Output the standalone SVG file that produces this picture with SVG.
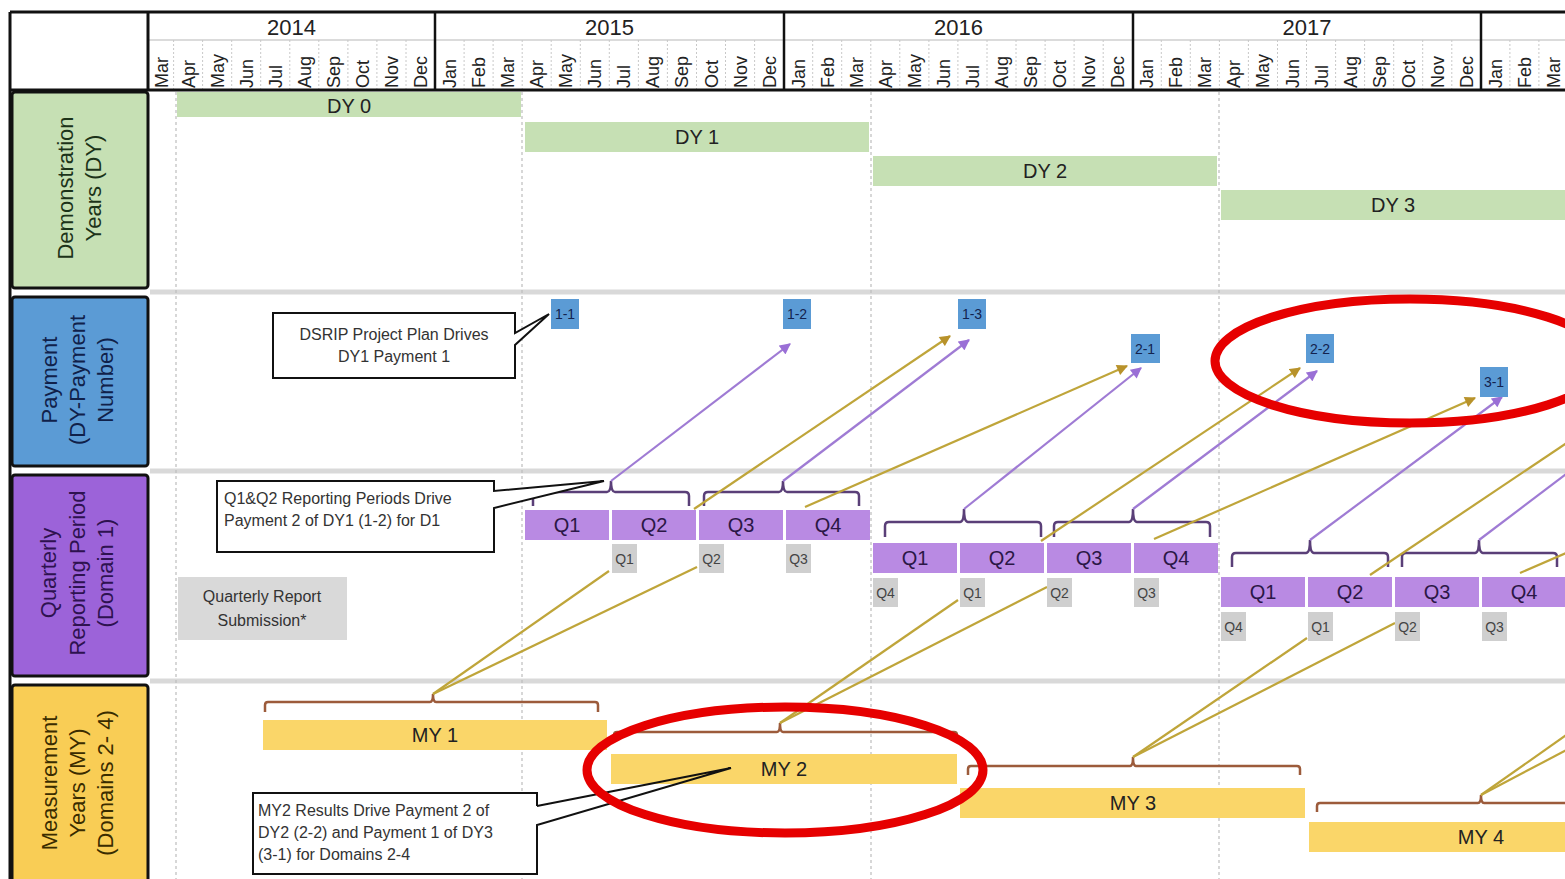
<svg xmlns="http://www.w3.org/2000/svg" width="1565" height="879" viewBox="0 0 1565 879">
<style>
text{font-family:"Liberation Sans",Arial,sans-serif;}
.yr{font-size:22px;fill:#222;text-anchor:middle}
.mon{font-size:18px;fill:#222}
.lbl{font-size:22px;text-anchor:middle}
.bar{font-size:20px;fill:#222;text-anchor:middle}
.qb{fill:#b98ae3}
.qt{font-size:20px;fill:#2b1746;text-anchor:middle}
.gb{fill:#cfcfcf}
.gt{font-size:14px;fill:#444;text-anchor:middle}
.pb{fill:#5b9bd5}
.pt{font-size:14px;fill:#13234f;text-anchor:middle}
.dy{fill:#c6e0b4}
.my{fill:#fad669}
.call{fill:#fff;stroke:#111;stroke-width:2}
.cline{fill:none;stroke:#111;stroke-width:2}
.ct{font-size:16px;fill:#333}
.sep{stroke:#c8c8c8;stroke-width:1;stroke-dasharray:2 2}
.dash{stroke:#bdbdbd;stroke-width:1.2;stroke-dasharray:3 3}
.band{stroke:#d9d9d9;stroke-width:5}
.brk{fill:none;stroke:#5a3f78;stroke-width:2.5}
.mbrk{fill:none;stroke:#9c5b3b;stroke-width:2.5}
.pl{stroke:#9f7bd4;stroke-width:2.2;fill:none}
.gl{stroke:#bfa53a;stroke-width:2.2;fill:none}
.ell{fill:none;stroke:#e60000;stroke-width:9}
</style>
<defs>
<marker id="ap" viewBox="0 0 10 10" refX="9" refY="5" markerWidth="12" markerHeight="11" markerUnits="userSpaceOnUse" orient="auto"><path d="M0,0 L10,5 L0,10 Z" fill="#9a6fd6"/></marker>
<marker id="ag" viewBox="0 0 10 10" refX="9" refY="5" markerWidth="12" markerHeight="11" markerUnits="userSpaceOnUse" orient="auto"><path d="M0,0 L10,5 L0,10 Z" fill="#b8922a"/></marker>
</defs>
<rect x="0" y="0" width="1565" height="879" fill="#fff"/>

<g id="header">
<line x1="148" y1="40" x2="1565" y2="40" stroke="#cfcfcf" stroke-width="1.5"/>
<g>
<line class="sep" x1="173.6" y1="40" x2="173.6" y2="90"/><line class="sep" x1="202.6" y1="40" x2="202.6" y2="90"/><line class="sep" x1="231.7" y1="40" x2="231.7" y2="90"/><line class="sep" x1="260.7" y1="40" x2="260.7" y2="90"/><line class="sep" x1="289.8" y1="40" x2="289.8" y2="90"/><line class="sep" x1="318.8" y1="40" x2="318.8" y2="90"/><line class="sep" x1="347.9" y1="40" x2="347.9" y2="90"/><line class="sep" x1="376.9" y1="40" x2="376.9" y2="90"/><line class="sep" x1="406" y1="40" x2="406" y2="90"/>
<line class="sep" x1="464.1" y1="40" x2="464.1" y2="90"/><line class="sep" x1="493.1" y1="40" x2="493.1" y2="90"/><line class="sep" x1="522.2" y1="40" x2="522.2" y2="90"/><line class="sep" x1="551.2" y1="40" x2="551.2" y2="90"/><line class="sep" x1="580.3" y1="40" x2="580.3" y2="90"/><line class="sep" x1="609.3" y1="40" x2="609.3" y2="90"/><line class="sep" x1="638.4" y1="40" x2="638.4" y2="90"/><line class="sep" x1="667.4" y1="40" x2="667.4" y2="90"/><line class="sep" x1="696.5" y1="40" x2="696.5" y2="90"/><line class="sep" x1="725.5" y1="40" x2="725.5" y2="90"/><line class="sep" x1="754.6" y1="40" x2="754.6" y2="90"/>
<line class="sep" x1="812.7" y1="40" x2="812.7" y2="90"/><line class="sep" x1="841.7" y1="40" x2="841.7" y2="90"/><line class="sep" x1="870.8" y1="40" x2="870.8" y2="90"/><line class="sep" x1="899.8" y1="40" x2="899.8" y2="90"/><line class="sep" x1="928.9" y1="40" x2="928.9" y2="90"/><line class="sep" x1="957.9" y1="40" x2="957.9" y2="90"/><line class="sep" x1="987" y1="40" x2="987" y2="90"/><line class="sep" x1="1016" y1="40" x2="1016" y2="90"/><line class="sep" x1="1045.1" y1="40" x2="1045.1" y2="90"/><line class="sep" x1="1074.1" y1="40" x2="1074.1" y2="90"/><line class="sep" x1="1103.2" y1="40" x2="1103.2" y2="90"/>
<line class="sep" x1="1161.3" y1="40" x2="1161.3" y2="90"/><line class="sep" x1="1190.3" y1="40" x2="1190.3" y2="90"/><line class="sep" x1="1219.4" y1="40" x2="1219.4" y2="90"/><line class="sep" x1="1248.4" y1="40" x2="1248.4" y2="90"/><line class="sep" x1="1277.5" y1="40" x2="1277.5" y2="90"/><line class="sep" x1="1306.5" y1="40" x2="1306.5" y2="90"/><line class="sep" x1="1335.6" y1="40" x2="1335.6" y2="90"/><line class="sep" x1="1364.6" y1="40" x2="1364.6" y2="90"/><line class="sep" x1="1393.7" y1="40" x2="1393.7" y2="90"/><line class="sep" x1="1422.7" y1="40" x2="1422.7" y2="90"/><line class="sep" x1="1451.8" y1="40" x2="1451.8" y2="90"/>
<line class="sep" x1="1509.9" y1="40" x2="1509.9" y2="90"/><line class="sep" x1="1538.9" y1="40" x2="1538.9" y2="90"/>
</g>
<g stroke="#111" stroke-width="3">
<line x1="10" y1="12" x2="1565" y2="12"/>
<line x1="10" y1="90" x2="1565" y2="90"/>
<line x1="10" y1="12" x2="10" y2="879"/>
<line x1="148" y1="12" x2="148" y2="90"/>
<line x1="435" y1="12" x2="435" y2="90" stroke-width="2.5"/>
<line x1="784" y1="12" x2="784" y2="90" stroke-width="2.5"/>
<line x1="1133" y1="12" x2="1133" y2="90" stroke-width="2.5"/>
<line x1="1481" y1="12" x2="1481" y2="90" stroke-width="2.5"/>
</g>
<text class="yr" x="291.5" y="35">2014</text>
<text class="yr" x="609.5" y="35">2015</text>
<text class="yr" x="958.5" y="35">2016</text>
<text class="yr" x="1307" y="35">2017</text>
<g class="mon">
<text transform="translate(168,88) rotate(-90)">Mar</text>
<text transform="translate(194.6,88) rotate(-90)">Apr</text>
<text transform="translate(223.6,88) rotate(-90)">May</text>
<text transform="translate(252.7,88) rotate(-90)">Jun</text>
<text transform="translate(281.7,88) rotate(-90)">Jul</text>
<text transform="translate(310.8,88) rotate(-90)">Aug</text>
<text transform="translate(339.8,88) rotate(-90)">Sep</text>
<text transform="translate(368.9,88) rotate(-90)">Oct</text>
<text transform="translate(397.9,88) rotate(-90)">Nov</text>
<text transform="translate(427,88) rotate(-90)">Dec</text>
<text transform="translate(456,88) rotate(-90)">Jan</text>
<text transform="translate(485.1,88) rotate(-90)">Feb</text>
<text transform="translate(514.1,88) rotate(-90)">Mar</text>
<text transform="translate(543.2,88) rotate(-90)">Apr</text>
<text transform="translate(572.2,88) rotate(-90)">May</text>
<text transform="translate(601.3,88) rotate(-90)">Jun</text>
<text transform="translate(630.3,88) rotate(-90)">Jul</text>
<text transform="translate(659.4,88) rotate(-90)">Aug</text>
<text transform="translate(688.4,88) rotate(-90)">Sep</text>
<text transform="translate(717.5,88) rotate(-90)">Oct</text>
<text transform="translate(746.5,88) rotate(-90)">Nov</text>
<text transform="translate(775.6,88) rotate(-90)">Dec</text>
<text transform="translate(804.6,88) rotate(-90)">Jan</text>
<text transform="translate(833.7,88) rotate(-90)">Feb</text>
<text transform="translate(862.7,88) rotate(-90)">Mar</text>
<text transform="translate(891.8,88) rotate(-90)">Apr</text>
<text transform="translate(920.8,88) rotate(-90)">May</text>
<text transform="translate(949.9,88) rotate(-90)">Jun</text>
<text transform="translate(978.9,88) rotate(-90)">Jul</text>
<text transform="translate(1008,88) rotate(-90)">Aug</text>
<text transform="translate(1037,88) rotate(-90)">Sep</text>
<text transform="translate(1066.1,88) rotate(-90)">Oct</text>
<text transform="translate(1095.1,88) rotate(-90)">Nov</text>
<text transform="translate(1124.2,88) rotate(-90)">Dec</text>
<text transform="translate(1153.2,88) rotate(-90)">Jan</text>
<text transform="translate(1182.3,88) rotate(-90)">Feb</text>
<text transform="translate(1211.3,88) rotate(-90)">Mar</text>
<text transform="translate(1240.4,88) rotate(-90)">Apr</text>
<text transform="translate(1269.4,88) rotate(-90)">May</text>
<text transform="translate(1298.5,88) rotate(-90)">Jun</text>
<text transform="translate(1327.5,88) rotate(-90)">Jul</text>
<text transform="translate(1356.6,88) rotate(-90)">Aug</text>
<text transform="translate(1385.6,88) rotate(-90)">Sep</text>
<text transform="translate(1414.7,88) rotate(-90)">Oct</text>
<text transform="translate(1443.7,88) rotate(-90)">Nov</text>
<text transform="translate(1472.8,88) rotate(-90)">Dec</text>
<text transform="translate(1501.8,88) rotate(-90)">Jan</text>
<text transform="translate(1530.9,88) rotate(-90)">Feb</text>
<text transform="translate(1559.9,88) rotate(-90)">Mar</text>
</g>
</g>

<g id="grid">
<line class="band" x1="150" y1="292" x2="1565" y2="292"/>
<line class="band" x1="150" y1="471" x2="1565" y2="471"/>
<line class="band" x1="150" y1="681" x2="1565" y2="681"/>
<line class="dash" x1="176" y1="92" x2="176" y2="879"/>
<line class="dash" x1="522" y1="92" x2="522" y2="879"/>
<line class="dash" x1="871" y1="92" x2="871" y2="879"/>
<line class="dash" x1="1219" y1="92" x2="1219" y2="879"/>
</g>

<g id="row-labels">
<g id="lbl-dy"><rect x="12" y="92" width="136" height="196" rx="3" fill="#c6e0b4" stroke="#111" stroke-width="3"/>
<text class="lbl" fill="#1c3319" transform="translate(0,188) rotate(-90)"><tspan x="0" y="73">Demonstration</tspan><tspan x="0" y="101">Years (DY)</tspan></text></g>
<g id="lbl-pay"><rect x="12" y="297" width="136" height="169" rx="3" fill="#5b9bd5" stroke="#111" stroke-width="3"/>
<text class="lbl" fill="#10214a" transform="translate(0,380) rotate(-90)"><tspan x="0" y="57">Payment</tspan><tspan x="0" y="85">(DY-Payment</tspan><tspan x="0" y="113">Number)</tspan></text></g>
<g id="lbl-q"><rect x="12" y="475" width="136" height="201" rx="3" fill="#9c63d9" stroke="#111" stroke-width="3"/>
<text class="lbl" fill="#2e1250" transform="translate(0,573) rotate(-90)"><tspan x="0" y="56">Quarterly</tspan><tspan x="0" y="85">Reporting Period</tspan><tspan x="0" y="113">(Domain 1)</tspan></text></g>
<g id="lbl-my"><rect x="12" y="685" width="136" height="200" rx="3" fill="#f9cd55" stroke="#111" stroke-width="3"/>
<text class="lbl" fill="#3a2c00" transform="translate(0,783) rotate(-90)"><tspan x="0" y="57">Measurement</tspan><tspan x="0" y="85">Years (MY)</tspan><tspan x="0" y="113">(Domains 2- 4)</tspan></text></g>
</g>

<g id="dy-bars">
<g id="dy0"><rect class="dy" x="177" y="92" width="344" height="25"/><text class="bar" x="349" y="113">DY 0</text></g>
<g id="dy1"><rect class="dy" x="525" y="122" width="344" height="30"/><text class="bar" x="697" y="144">DY 1</text></g>
<g id="dy2"><rect class="dy" x="873" y="156" width="344" height="30"/><text class="bar" x="1045" y="178">DY 2</text></g>
<g id="dy3"><rect class="dy" x="1221" y="190" width="344" height="30"/><text class="bar" x="1393" y="212">DY 3</text></g>
</g>

<g id="connectors">
<path class="brk" d="M533,506 V496 Q533,492 537,492 H607 Q611,492 611,481 Q611,492 615,492 H685 Q689,492 689,496 V506"/>
<path class="brk" d="M704,506 V496 Q704,492 708,492 H779 Q783,492 783,481 Q783,492 787,492 H855 Q859,492 859,496 V506"/>
<path class="brk" d="M885,537 V526 Q885,522 889,522 H960 Q964,522 964,509 Q964,522 968,522 H1037 Q1041,522 1041,526 V537"/>
<path class="brk" d="M1054,537 V526 Q1054,522 1058,522 H1129 Q1133,522 1133,509 Q1133,522 1137,522 H1206 Q1210,522 1210,526 V537"/>
<path class="brk" d="M1232,567 V557 Q1232,553 1236,553 H1306 Q1310,553 1310,540 Q1310,553 1314,553 H1384 Q1388,553 1388,557 V567"/>
<path class="brk" d="M1402,567 V557 Q1402,553 1406,553 H1475 Q1479,553 1479,540 Q1479,553 1483,553 H1553 Q1557,553 1557,557 V567"/>
<path class="mbrk" d="M265,712 V705 Q265,702 268,702 H430 Q433,702 433,694 Q433,702 436,702 H595 Q598,702 598,705 V712"/>
<path class="mbrk" d="M614,741 V735 Q614,732 617,732 H777 Q780,732 780,723 Q780,732 783,732 H954 Q957,732 957,735 V741"/>
<path class="mbrk" d="M968,775 V769 Q968,766 971,766 H1130 Q1133,766 1133,757 Q1133,766 1136,766 H1297 Q1300,766 1300,769 V775"/>
<path class="mbrk" d="M1317,812 V806 Q1317,803 1320,803 H1478 Q1481,803 1481,795 Q1481,803 1484,803 H1600"/>
<line class="pl" x1="611" y1="481" x2="790" y2="344" marker-end="url(#ap)"/>
<line class="pl" x1="783" y1="481" x2="969" y2="340" marker-end="url(#ap)"/>
<line class="pl" x1="964" y1="509" x2="1141" y2="368" marker-end="url(#ap)"/>
<line class="pl" x1="1133" y1="509" x2="1317" y2="371" marker-end="url(#ap)"/>
<line class="pl" x1="1310" y1="540" x2="1502" y2="397" marker-end="url(#ap)"/>
<line class="pl" x1="1479" y1="540" x2="1660" y2="403"/>
<line class="gl" x1="433" y1="694" x2="609" y2="571"/>
<line class="gl" x1="433" y1="694" x2="697" y2="567"/>
<line class="gl" x1="694" y1="509" x2="950" y2="336" marker-end="url(#ag)"/>
<line class="gl" x1="805" y1="507" x2="1127" y2="366" marker-end="url(#ag)"/>
<line class="gl" x1="780" y1="723" x2="958" y2="600"/>
<line class="gl" x1="780" y1="723" x2="1047" y2="587"/>
<line class="gl" x1="1041" y1="541" x2="1300" y2="368" marker-end="url(#ag)"/>
<line class="gl" x1="1154" y1="539" x2="1475" y2="398" marker-end="url(#ag)"/>
<line class="gl" x1="1133" y1="757" x2="1307" y2="638"/>
<line class="gl" x1="1133" y1="757" x2="1395" y2="623"/>
<line class="gl" x1="1370" y1="575" x2="1650" y2="387"/>
<line class="gl" x1="1520" y1="573" x2="1700" y2="495"/>
<line class="gl" x1="1481" y1="795" x2="1656" y2="672"/>
<line class="gl" x1="1481" y1="795" x2="1743" y2="657"/>
</g>

<g id="payments">
<g id="p1-1"><rect class="pb" x="551" y="299" width="28" height="30"/><text class="pt" x="565" y="319">1-1</text></g>
<g id="p1-2"><rect class="pb" x="783" y="299" width="28" height="30"/><text class="pt" x="797" y="319">1-2</text></g>
<g id="p1-3"><rect class="pb" x="958" y="299" width="28" height="30"/><text class="pt" x="972" y="319">1-3</text></g>
<g id="p2-1"><rect class="pb" x="1131" y="334" width="29" height="29"/><text class="pt" x="1145" y="354">2-1</text></g>
<g id="p2-2"><rect class="pb" x="1306" y="334" width="28" height="29"/><text class="pt" x="1320" y="354">2-2</text></g>
<g id="p3-1"><rect class="pb" x="1480" y="367" width="28" height="30"/><text class="pt" x="1494" y="387">3-1</text></g>
</g>

<g id="quarters">
<g id="fy1-q1"><rect class="qb" x="525" y="510" width="84" height="30"/><text class="qt" x="567" y="532">Q1</text></g>
<g id="fy1-q2"><rect class="qb" x="612" y="510" width="84" height="30"/><text class="qt" x="654" y="532">Q2</text></g>
<g id="fy1-q3"><rect class="qb" x="699" y="510" width="84" height="30"/><text class="qt" x="741" y="532">Q3</text></g>
<g id="fy1-q4"><rect class="qb" x="786" y="510" width="84" height="30"/><text class="qt" x="828" y="532">Q4</text></g>
<g id="fy2-q1"><rect class="qb" x="873" y="543" width="84" height="30"/><text class="qt" x="915" y="565">Q1</text></g>
<g id="fy2-q2"><rect class="qb" x="960" y="543" width="84" height="30"/><text class="qt" x="1002" y="565">Q2</text></g>
<g id="fy2-q3"><rect class="qb" x="1047" y="543" width="84" height="30"/><text class="qt" x="1089" y="565">Q3</text></g>
<g id="fy2-q4"><rect class="qb" x="1134" y="543" width="84" height="30"/><text class="qt" x="1176" y="565">Q4</text></g>
<g id="fy3-q1"><rect class="qb" x="1221" y="577" width="84" height="30"/><text class="qt" x="1263" y="599">Q1</text></g>
<g id="fy3-q2"><rect class="qb" x="1308" y="577" width="84" height="30"/><text class="qt" x="1350" y="599">Q2</text></g>
<g id="fy3-q3"><rect class="qb" x="1395" y="577" width="84" height="30"/><text class="qt" x="1437" y="599">Q3</text></g>
<g id="fy3-q4"><rect class="qb" x="1482" y="577" width="84" height="30"/><text class="qt" x="1524" y="599">Q4</text></g>
</g>

<g id="submissions">
<g id="s1"><rect class="gb" x="612" y="544" width="25" height="29"/><text class="gt" x="624.5" y="564">Q1</text></g>
<g id="s2"><rect class="gb" x="699" y="544" width="25" height="29"/><text class="gt" x="711.5" y="564">Q2</text></g>
<g id="s3"><rect class="gb" x="786" y="544" width="25" height="29"/><text class="gt" x="798.5" y="564">Q3</text></g>
<g id="s4"><rect class="gb" x="873" y="578" width="25" height="29"/><text class="gt" x="885.5" y="598">Q4</text></g>
<g id="s5"><rect class="gb" x="960" y="578" width="25" height="29"/><text class="gt" x="972.5" y="598">Q1</text></g>
<g id="s6"><rect class="gb" x="1047" y="578" width="25" height="29"/><text class="gt" x="1059.5" y="598">Q2</text></g>
<g id="s7"><rect class="gb" x="1134" y="578" width="25" height="29"/><text class="gt" x="1146.5" y="598">Q3</text></g>
<g id="s8"><rect class="gb" x="1221" y="612" width="25" height="29"/><text class="gt" x="1233.5" y="632">Q4</text></g>
<g id="s9"><rect class="gb" x="1308" y="612" width="25" height="29"/><text class="gt" x="1320.5" y="632">Q1</text></g>
<g id="s10"><rect class="gb" x="1395" y="612" width="25" height="29"/><text class="gt" x="1407.5" y="632">Q2</text></g>
<g id="s11"><rect class="gb" x="1482" y="612" width="25" height="29"/><text class="gt" x="1494.5" y="632">Q3</text></g>
<g id="legend-submission"><rect x="178" y="577" width="169" height="63" fill="#d9d9d9"/><text class="ct" text-anchor="middle"><tspan x="262" y="602">Quarterly Report</tspan><tspan x="262" y="626">Submission*</tspan></text></g>
</g>

<g id="my-bars">
<g id="my1"><rect class="my" x="263" y="720" width="344" height="30"/><text class="bar" x="435" y="742">MY 1</text></g>
<g id="my2"><rect class="my" x="611" y="754" width="346" height="30"/><text class="bar" x="784" y="776">MY 2</text></g>
<g id="my3"><rect class="my" x="960" y="788" width="345" height="30"/><text class="bar" x="1133" y="810">MY 3</text></g>
<g id="my4"><rect class="my" x="1309" y="822" width="256" height="30"/><text class="bar" x="1481" y="844">MY 4</text></g>
</g>

<g id="callouts">
<g id="callout-dsrip"><path class="call" d="M273,313 H515 V333 L549,314 L515,345 V378 H273 Z"/><text class="ct" text-anchor="middle"><tspan x="394" y="340">DSRIP Project Plan Drives</tspan><tspan x="394" y="362">DY1 Payment 1</tspan></text></g>
<g id="callout-q"><path class="call" d="M217,481 H494 V491 L604,481 L494,508 V552 H217 Z"/><text class="ct"><tspan x="224" y="504">Q1&amp;Q2 Reporting Periods Drive</tspan><tspan x="224" y="526">Payment 2 of DY1 (1-2) for D1</tspan></text></g>
<g id="callout-my"><rect x="253" y="793" width="284" height="81" fill="#fff"/><path class="cline" d="M537,806 V793 H253 V874 H537 V825 L731,768 L537,806"/><text class="ct"><tspan x="258" y="816">MY2 Results Drive Payment 2 of</tspan><tspan x="258" y="838">DY2 (2-2) and Payment 1 of DY3</tspan><tspan x="258" y="860">(3-1) for Domains 2-4</tspan></text></g>
</g>

<g id="highlights">
<ellipse class="ell" cx="1410" cy="361" rx="195" ry="62"/>
<ellipse class="ell" cx="785" cy="770" rx="198" ry="63"/>
</g>
</svg>
